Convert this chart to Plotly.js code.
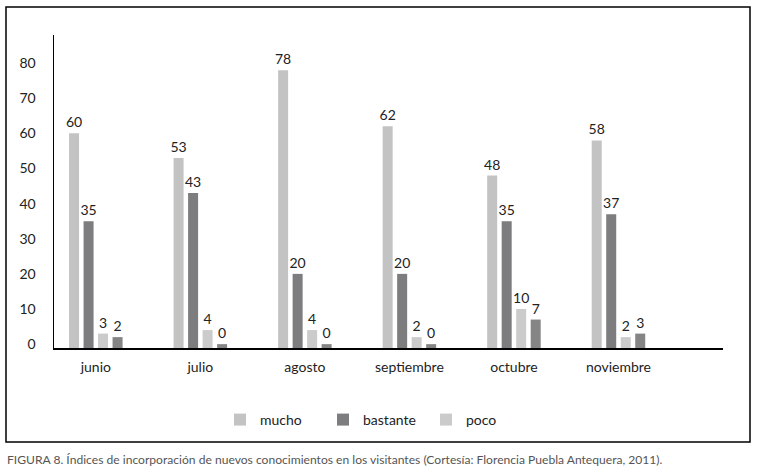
<!DOCTYPE html>
<html>
<head>
<meta charset="utf-8">
<script src="https://cdn.plot.ly/plotly-3.0.1.min.js"></script>
<style>html,body{margin:0;padding:0;background:#fff;}#chart{width:758px;height:472px;}</style>
</head>
<body>
<div id="chart"></div>
<script>
const months = ['junio', 'julio', 'agosto', 'septiembre', 'octubre', 'noviembre'];
const mucho = [60, 53, 78, 62, 48, 58];
const bastante = [35, 43, 20, 20, 35, 37];
const poco = [3, 4, 4, 2, 10, 2];
const nada = [2, 0, 0, 0, 7, 3];
const yTicks = [0, 10, 20, 30, 40, 50, 60, 70, 80];
const caption = 'FIGURA 8. Índices de incorporación de nuevos conocimientos en los visitantes (Cortesía: Florencia Puebla Antequera, 2011).';

const FONT = 'Lato, "Open Sans", sans-serif';
const BASE = -1.1;

function mk(name, vals, color, showlegend) {
  return {
    type: 'bar', name: name, x: months,
    y: vals.map(v => v - BASE), base: BASE,
    text: vals.map(String), textposition: 'outside', cliponaxis: false,
    constraintext: 'none',
    textfont: {family: FONT, size: 14, color: '#222'},
    marker: {color: color, line: {width: 0}},
    showlegend: showlegend, hoverinfo: 'skip'
  };
}

const data = [
  mk('mucho', mucho, '#c3c3c3', true),
  mk('bastante', bastante, '#7d7d80', true),
  mk('poco', poco, '#cbcbcb', true),
  mk('nada', nada, '#858585', false)
];

const L = 54, R = 723, T = 35, B = 348, W = 758, H = 472;
const pw = R - L, ph = B - T;
const px = x => (x - L) / pw;
const py = y => (B - y) / ph;

const layout = {
  width: W, height: H,
  margin: {l: L, r: W - R, t: T, b: H - B, pad: 0},
  paper_bgcolor: '#fff', plot_bgcolor: '#fff',
  font: {family: FONT, size: 14, color: '#222'},
  barmode: 'group', bargap: 0.445, bargroupgap: 0.31,
  xaxis: {
    type: 'category', range: [-0.4, 6.0],
    showline: true, linecolor: '#000', linewidth: 1.5,
    showgrid: false, zeroline: false, ticks: '', ticklabelstandoff: 6,
    tickfont: {family: FONT, size: 14, color: '#222'}
  },
  yaxis: {
    range: [BASE, 88], tickvals: yTicks,
    showline: true, linecolor: '#000', linewidth: 1.5,
    showgrid: false, zeroline: false, ticks: '', ticklabelstandoff: 14,
    tickfont: {family: FONT, size: 14, color: '#222'}
  },
  legend: {
    orientation: 'h', x: px(220), xanchor: 'left', y: py(420), yanchor: 'middle',
    font: {family: FONT, size: 14, color: '#222'}, entrywidth: 58,
    bgcolor: 'rgba(0,0,0,0)', traceorder: 'normal'
  },
  shapes: [{
    type: 'rect', xref: 'paper', yref: 'paper',
    x0: px(6), x1: px(750), y0: py(442), y1: py(7),
    line: {color: '#000', width: 1.5}, fillcolor: 'rgba(0,0,0,0)', layer: 'below'
  }],
  annotations: [{
    xref: 'paper', yref: 'paper', x: px(5), y: py(459), xanchor: 'left', yanchor: 'middle',
    text: caption, showarrow: false, font: {family: FONT, size: 12.1, color: '#555'}
  }]
};

Plotly.newPlot('chart', data, layout, {displayModeBar: false, staticPlot: true});
</script>
</body>
</html>
